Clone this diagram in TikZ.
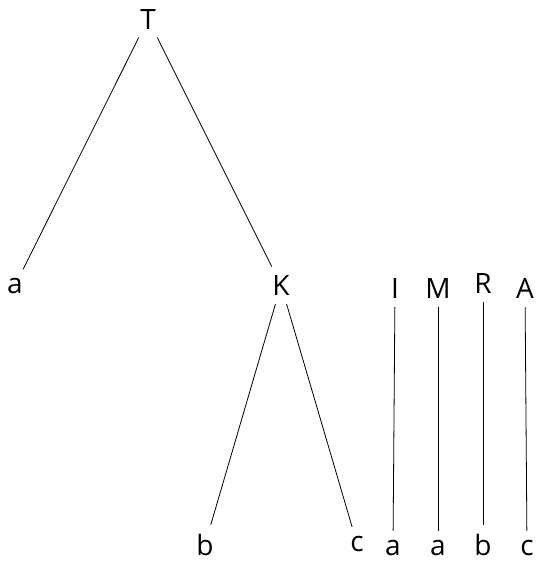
\documentclass[tikz,border=0pt]{standalone}
\usepackage{fontspec}
\setmainfont{Open Sans}
\tikzset{
  leaf/.style={anchor=base, inner sep=2pt, font=\fontsize{28}{34}\selectfont},
  branch/.style={line width=0.8pt, shorten <=7pt, shorten >=7pt}
}
\begin{document}
\begin{tikzpicture}
			[x=1pt, y=-1pt]
			\useasboundingbox (0,0) rectangle (536,562);
			% tree on the left
			\node[leaf] (t) at (148,29) {T};
			\node[leaf] (ta) at (15,293) {a};
			\node[leaf] (k) at (281,295) {K};
			\node[leaf] (kb) at (205,555) {b};
			\node[leaf] (kc) at (357,551) {c};
			\draw[branch] (t) edge (ta);
			\draw[branch] (t) edge (k);
			\draw[branch] (k) edge (kb);
			\draw[branch] (k) edge (kc);
			% single branches
			\node[leaf] (i) at (395,298) {I};
			\node[leaf] (m) at (438,298) {M};
			\node[leaf] (r) at (483,293) {R};
			\node[leaf] (x) at (525,298) {A};
			\node[leaf] (ia) at (393,555) {a};
			\node[leaf] (ma) at (438,555) {a};
			\node[leaf] (rb) at (483,555) {b};
			\node[leaf] (xc) at (527,555) {c};
			\draw[branch] (i) edge (ia);
			\draw[branch] (m) edge (ma);
			\draw[branch] (r) edge (rb);
			\draw[branch] (x) edge (xc);
			\end{tikzpicture}
\end{document}
